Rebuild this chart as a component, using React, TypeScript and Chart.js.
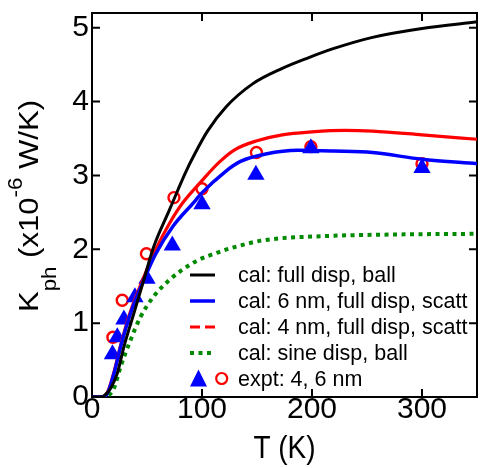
import React, { useEffect, useRef } from 'react';
import { Chart, registerables } from 'chart.js';

Chart.register(...registerables);

const FONT = '"Liberation Sans", Arial, Helvetica, sans-serif';

// Axis ticks
const xTicks = [0, 100, 200, 300];
const yTicks = [0, 1, 2, 3, 4, 5];

// cal: full disp, ball (black)
const blackT = [0, 8, 12, 17, 23, 29, 38, 47, 56, 70, 78, 85, 93, 105, 122, 146, 173, 196, 220, 255, 300, 350];
const blackK = [0, 0, 0.03, 0.12, 0.32, 0.68, 1.13, 1.58, 2.03, 2.52, 2.8, 3.04, 3.28, 3.6, 3.93, 4.24, 4.45, 4.59, 4.72, 4.87, 4.99, 5.08];

// cal: 6 nm, full disp, scatt (blue)
const blueT = [0, 8, 14, 20, 26, 35, 47, 58, 73, 94, 99, 121, 135, 158, 187, 220, 255, 300, 350];
const blueK = [0, 0, 0.05, 0.32, 0.68, 1.13, 1.58, 1.94, 2.3, 2.66, 2.75, 3.05, 3.19, 3.29, 3.34, 3.33, 3.31, 3.22, 3.16];

// cal: 4 nm, full disp, scatt (red)
const redT = [0, 8, 14, 20, 26, 35, 47, 58, 70, 82, 100, 115, 130, 150, 173, 200, 230, 255, 300, 350];
const redK = [0, 0, 0.06, 0.34, 0.7, 1.16, 1.62, 2.0, 2.34, 2.62, 2.93, 3.17, 3.35, 3.47, 3.55, 3.59, 3.61, 3.6, 3.55, 3.49];

// cal: sine disp, ball (green dotted)
const greenT = [0, 10, 15, 20, 26, 35, 44, 56, 70, 80, 96, 115, 125, 155, 214, 273, 350];
const greenK = [0, 0, 0.02, 0.12, 0.41, 0.77, 1.08, 1.36, 1.58, 1.7, 1.85, 1.96, 2.01, 2.12, 2.18, 2.2, 2.21];

// expt (blue triangles)
const triT = [18.6, 23, 29, 39, 50, 73, 100, 149, 199, 300];
const triK = [0.58, 0.81, 1.05, 1.35, 1.6, 2.05, 2.61, 3.01, 3.37, 3.1];

// expt (red open circles)
const circT = [19, 27.5, 49.5, 74.5, 100, 149.5, 199, 300];
const circK = [0.81, 1.31, 1.94, 2.7, 2.82, 3.31, 3.39, 3.16];

const legendLabels = [
  'cal: full disp, ball',
  'cal: 6 nm, full disp, scatt',
  'cal: 4 nm, full disp, scatt',
  'cal: sine disp, ball',
  'expt: 4, 6 nm',
];

const BLUE = '#0000ff';
const RED = '#ff0000';
const GREEN = '#008a00';

const pts = (t: number[], k: number[]) => t.map((v, i) => ({ x: v, y: k[i] }));

const curve = (label: string, t: number[], k: number[], color: string, width: number, dash: number[] = []) => ({
  label,
  data: pts(t, k),
  showLine: true,
  borderColor: color,
  backgroundColor: color,
  borderWidth: width,
  borderDash: dash,
  borderCapStyle: 'butt',
  pointRadius: 0,
  pointHoverRadius: 0,
  cubicInterpolationMode: 'monotone',
});

const framePlugin = {
  id: 'frame',
  beforeDatasetsDraw(chart: any) {
    const { ctx, chartArea, scales } = chart;
    const { left, right, top, bottom } = chartArea;
    const x = scales.x;
    const y = scales.y;
    ctx.save();
    ctx.strokeStyle = '#000';
    ctx.lineWidth = 2;
    ctx.strokeRect(left, top, right - left, bottom - top);
    const L = 8;
    ctx.beginPath();
    xTicks.forEach((v) => {
      if (v === 0) return;
      const px = x.getPixelForValue(v);
      ctx.moveTo(px, bottom);
      ctx.lineTo(px, bottom - L);
      ctx.moveTo(px, top);
      ctx.lineTo(px, top + L);
    });
    yTicks.forEach((v) => {
      if (v === 0) return;
      const py = y.getPixelForValue(v);
      ctx.moveTo(left, py);
      ctx.lineTo(left + L, py);
      ctx.moveTo(right, py);
      ctx.lineTo(right - L, py);
    });
    ctx.stroke();
    ctx.restore();
  },
  afterDraw(chart: any) {
    const { ctx, chartArea } = chart;
    const { left, right } = chartArea;
    ctx.save();
    ctx.fillStyle = '#000';
    ctx.textBaseline = 'alphabetic';
    ctx.textAlign = 'left';

    // Y axis title: K_ph (x10^-6 W/K)
    const main = `28px ${FONT}`;
    const small = `20px ${FONT}`;
    const segs = [
      { t: 'K', f: main, dy: 0 },
      { t: 'ph', f: small, dy: 18 },
      { t: ' (x10', f: main, dy: 0 },
      { t: '-6', f: small, dy: -16 },
      { t: ' W/K)', f: main, dy: 0 },
    ];
    let total = 0;
    const widths = segs.map((s) => {
      ctx.font = s.f;
      const w = ctx.measureText(s.t).width;
      total += w;
      return w;
    });
    const targetLen = 212;
    const sc = targetLen / total;
    ctx.save();
    ctx.translate(38, 206);
    ctx.rotate(-Math.PI / 2);
    ctx.scale(sc, 1);
    let cx = -total / 2;
    segs.forEach((s, i) => {
      ctx.font = s.f;
      ctx.fillText(s.t, cx, s.dy);
      cx += widths[i];
    });
    ctx.restore();

    // X axis title
    ctx.save();
    ctx.font = `28px ${FONT}`;
    ctx.textAlign = 'center';
    ctx.translate((left + right) / 2, 458);
    ctx.scale(1, 1.15);
    ctx.fillText('T (K)', 0, 0);
    ctx.restore();

    // Legend
    const baselines = [282, 308, 334, 360, 386];
    const lx0 = 190;
    const lx1 = 215;
    const tx = 238;
    ctx.font = `21.5px ${FONT}`;
    const styles = [
      { c: '#000', w: 3, d: [] as number[] },
      { c: BLUE, w: 3.5, d: [] as number[] },
      { c: RED, w: 3, d: [10, 5] },
      { c: GREEN, w: 4, d: [4, 4.5] },
    ];
    styles.forEach((s, i) => {
      const yy = baselines[i] - 7;
      ctx.beginPath();
      ctx.strokeStyle = s.c;
      ctx.lineWidth = s.w;
      ctx.setLineDash(s.d);
      ctx.lineCap = 'butt';
      ctx.moveTo(lx0, yy);
      ctx.lineTo(lx1, yy);
      ctx.stroke();
    });
    ctx.setLineDash([]);
    // triangle + circle markers
    const my = baselines[4] - 7.5;
    ctx.beginPath();
    ctx.fillStyle = BLUE;
    ctx.moveTo(198.5, my - 9);
    ctx.lineTo(207, my + 8);
    ctx.lineTo(190, my + 8);
    ctx.closePath();
    ctx.fill();
    ctx.beginPath();
    ctx.strokeStyle = RED;
    ctx.lineWidth = 2.2;
    ctx.arc(221.7, my, 5.5, 0, Math.PI * 2);
    ctx.stroke();

    ctx.fillStyle = '#000';
    legendLabels.forEach((lab, i) => {
      ctx.fillText(lab, tx, baselines[i]);
    });
    ctx.restore();
  },
};

const App = () => {
  const ref = useRef<HTMLCanvasElement>(null);
  useEffect(() => {
    if (!ref.current) return;
    const chart = new Chart(ref.current, {
      type: 'scatter',
      data: {
        datasets: [
          curve(legendLabels[0], blackT, blackK, '#000', 3),
          curve(legendLabels[1], blueT, blueK, BLUE, 3.5),
          curve(legendLabels[2], redT, redK, RED, 3.2),
          curve(legendLabels[3], greenT, greenK, GREEN, 4, [4, 4.5]),
          {
            label: 'expt 6 nm',
            data: pts(triT, triK),
            pointStyle: 'triangle',
            pointRadius: 10,
            pointHoverRadius: 10,
            backgroundColor: BLUE,
            borderColor: BLUE,
            borderWidth: 0,
            showLine: false,
          },
          {
            label: 'expt 4 nm',
            data: pts(circT, circK),
            pointStyle: 'circle',
            pointRadius: 5.5,
            pointHoverRadius: 5.5,
            backgroundColor: '#ffffff',
            borderColor: RED,
            borderWidth: 2.4,
            showLine: false,
          },
        ] as any,
      },
      options: {
        responsive: false,
        animation: false,
        devicePixelRatio: 1,
        layout: { padding: { top: 13, right: 2, left: 0, bottom: 0 } },
        plugins: {
          legend: { display: false },
          tooltip: { enabled: false },
        },
        events: [],
        scales: {
          x: {
            type: 'linear',
            min: 0,
            max: 350,
            afterBuildTicks: (s: any) => {
              s.ticks = xTicks.map((v) => ({ value: v }));
            },
            afterFit: (s: any) => {
              s.height = 71;
            },
            grid: { display: false, drawTicks: false },
            border: { display: false },
            ticks: {
              font: { size: 30, family: FONT, lineHeight: 0.6 },
              color: '#000',
              padding: 4,
              maxRotation: 0,
              autoSkip: false,
            },
          },
          y: {
            type: 'linear',
            min: 0,
            max: 5.2,
            afterBuildTicks: (s: any) => {
              s.ticks = yTicks.map((v) => ({ value: v }));
            },
            afterFit: (s: any) => {
              s.width = 92;
            },
            grid: { display: false, drawTicks: false },
            border: { display: false },
            ticks: {
              font: { size: 30, family: FONT, lineHeight: 0.6 },
              color: '#000',
              padding: 3,
              autoSkip: false,
            },
          },
        },
      } as any,
      plugins: [framePlugin],
    });
    return () => chart.destroy();
  }, []);
  return (
    <div style={{ position: 'fixed', left: 0, top: 0, width: 487, height: 468, background: '#fff' }}>
      <canvas ref={ref} width={487} height={468} style={{ display: 'block' }} />
    </div>
  );
};

export default App;
